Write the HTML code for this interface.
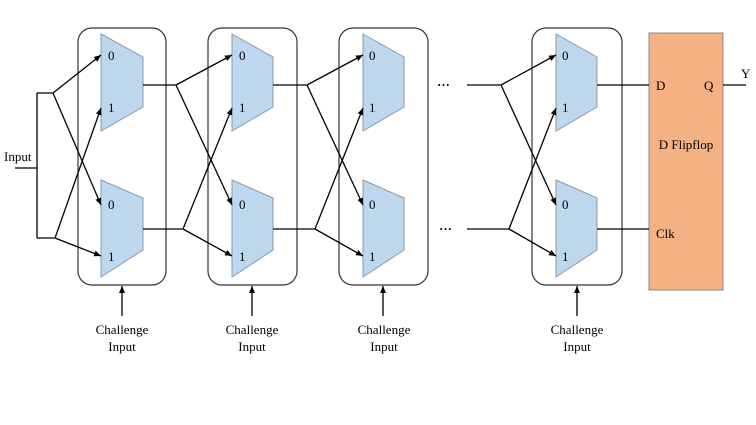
<!DOCTYPE html>
<html><head><style>body{margin:0;background:#fff}svg{display:block}</style></head><body>
<svg width="756" height="425" viewBox="0 0 756 425" xmlns="http://www.w3.org/2000/svg" font-family="Liberation Serif, serif" font-size="13">
<defs><marker id="a" markerWidth="8" markerHeight="8" refX="7" refY="4" orient="auto" markerUnits="userSpaceOnUse"><path d="M0,1 L7,4 L0,7 Z" fill="#000"/></marker></defs>
<g fill="none" stroke="#333" stroke-width="1.2">
<rect x="78" y="28" width="88" height="257" rx="14"/>
<rect x="208" y="28" width="89" height="257" rx="14"/>
<rect x="339" y="28" width="89" height="257" rx="14"/>
<rect x="532" y="28" width="90" height="257" rx="14"/>
</g>
<g fill="#bdd7ee" stroke="#8a9aaa" stroke-width="1">
<path d="M101,34 L143,57 L143,107 L101,131 Z"/><path d="M101,180 L143,198 L143,250 L101,277 Z"/>
<path d="M232,34 L273,57 L273,107 L232,131 Z"/><path d="M232,180 L273,198 L273,250 L232,277 Z"/>
<path d="M363,34 L404,57 L404,107 L363,131 Z"/><path d="M363,180 L404,198 L404,250 L363,277 Z"/>
<path d="M556,34 L597,57 L597,107 L556,131 Z"/><path d="M556,180 L597,198 L597,250 L556,277 Z"/>
</g>
<rect x="649" y="33" width="74" height="257" fill="#f4b183" stroke="#888" stroke-width="1"/>
<g stroke="#000" stroke-width="1.3" fill="none">
<path d="M15,168 H37 M37,93 V238 M37,93 H53 M37,238 H55"/>
<path d="M53,93 L101,55" marker-end="url(#a)"/><path d="M53,93 L101,205" marker-end="url(#a)"/>
<path d="M55,238 L101,108" marker-end="url(#a)"/><path d="M55,238 L101,256" marker-end="url(#a)"/>
<path d="M143,85 H176 M143,229 H183"/>
<path d="M176,85 L232,55" marker-end="url(#a)"/><path d="M176,85 L232,205" marker-end="url(#a)"/>
<path d="M183,229 L232,108" marker-end="url(#a)"/><path d="M183,229 L232,256" marker-end="url(#a)"/>
<path d="M273,85 H307 M273,229 H315"/>
<path d="M307,85 L363,55" marker-end="url(#a)"/><path d="M307,85 L363,205" marker-end="url(#a)"/>
<path d="M315,229 L363,108" marker-end="url(#a)"/><path d="M315,229 L363,256" marker-end="url(#a)"/>
<path d="M467,85 H501 M467,229 H509"/>
<path d="M501,85 L556,55" marker-end="url(#a)"/><path d="M501,85 L556,205" marker-end="url(#a)"/>
<path d="M509,229 L556,108" marker-end="url(#a)"/><path d="M509,229 L556,256" marker-end="url(#a)"/>
<path d="M597,85 H649 M597,229 H649 M723,85 H746"/>
<path d="M122,316 V286" marker-end="url(#a)"/><path d="M252,316 V286" marker-end="url(#a)"/>
<path d="M383,316 V286" marker-end="url(#a)"/><path d="M577,316 V286" marker-end="url(#a)"/>
</g>
<g fill="#000">
<text x="4" y="161">Input</text>
<text x="108" y="60">0</text><text x="108" y="112">1</text><text x="108" y="209">0</text><text x="108" y="261">1</text>
<text x="239" y="60">0</text><text x="239" y="112">1</text><text x="239" y="209">0</text><text x="239" y="261">1</text>
<text x="369" y="60">0</text><text x="369" y="112">1</text><text x="369" y="209">0</text><text x="369" y="261">1</text>
<text x="562" y="60">0</text><text x="562" y="112">1</text><text x="562" y="209">0</text><text x="562" y="261">1</text>
<text x="437" y="89" font-weight="bold">···</text><text x="439" y="233" font-weight="bold">···</text>
<text x="656" y="90">D</text><text x="704" y="90">Q</text><text x="741" y="78">Y</text>
<text x="686" y="149" text-anchor="middle">D Flipflop</text><text x="656" y="238">Clk</text>
<g text-anchor="middle">
<text x="122" y="334">Challenge</text><text x="122" y="351">Input</text>
<text x="252" y="334">Challenge</text><text x="252" y="351">Input</text>
<text x="384" y="334">Challenge</text><text x="384" y="351">Input</text>
<text x="577" y="334">Challenge</text><text x="577" y="351">Input</text>
</g></g>
</svg>
</body></html>
